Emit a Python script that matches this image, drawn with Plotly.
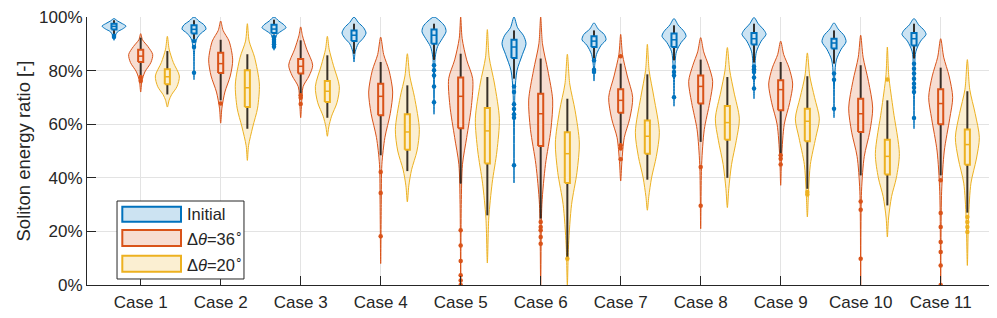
import plotly.graph_objects as go

# ---------------- data ----------------
cases = ["Case 1", "Case 2", "Case 3", "Case 4", "Case 5", "Case 6",
         "Case 7", "Case 8", "Case 9", "Case 10", "Case 11"]
y_ticks = [0, 20, 40, 60, 80, 100]
y_tick_labels = ["0%", "20%", "40%", "60%", "80%", "100%"]
series_names = ["Initial", "Δ<i>θ</i>=36<sup>∘</sup>", "Δ<i>θ</i>=20<sup>∘</sup>"]

# Initial
init_q1 = [95.3, 93.8, 94.0, 91.0, 90.0, 84.7, 88.8, 88.8, 89.7, 88.2, 89.4]
init_med = [96.5, 95.4, 95.5, 93.2, 93.2, 88.8, 91.0, 91.5, 91.9, 90.3, 91.9]
init_q3 = [97.5, 96.9, 97.1, 95.0, 95.3, 91.5, 92.8, 93.8, 94.0, 91.9, 94.0]
init_wlo = [93.5, 91.4, 93.5, 86.3, 84.0, 77.0, 84.5, 83.8, 83.0, 82.6, 84.5]
init_whi = [98.8, 98.8, 99.0, 97.5, 97.5, 95.0, 95.0, 96.9, 97.5, 95.0, 97.5]
init_out = [[93.0, 92.5], [91.0, 88.8, 79.2], [92.5, 91.5, 90.7, 89.8, 88.9], [],
            [82.0, 80.1, 78.2, 74.1, 68.2], [74.1, 72.0, 67.4, 65.7, 63.7, 62.4, 44.7],
            [83.8, 80.3, 79.5], [81.3, 79.5, 78.2, 70.1], [81.5, 80.5, 79.5, 77.4, 73.3],
            [78.9, 76.6, 65.8], [82.6, 80.7, 78.9, 77.0, 75.1, 73.6, 72.0, 62.3]]
init_shape = [
    [(99.4, 0), (98.5, .3), (97.5, .7), (96.6, 1), (95.5, .7), (94.5, .3), (93, .1), (91.3, 0)],
    [(100, 0), (98.5, .4), (97, .85), (95.5, 1), (94, .6), (92, .25), (88, .06), (76.6, 0)],
    [(100, 0), (98.5, .4), (97, .85), (96, 1), (95, .7), (93.5, .25), (91, .08), (87.6, 0)],
    [(100, 0), (98, .35), (96, .8), (94, 1), (92, .75), (90, .35), (87, .1), (83.2, 0)],
    [(100, 0), (98.5, .5), (96.5, .9), (94.5, 1), (92, .7), (89, .3), (85, .1), (63.7, 0)],
    [(100, 0), (96, .3), (93, .8), (90, 1), (86, .7), (80, .25), (72, .08), (38.1, 0)],
    [(97.8, 0), (95.5, .35), (93.5, .85), (91.5, 1), (89.5, .6), (86, .2), (82, .06), (76.1, 0)],
    [(99.4, 0), (97, .35), (94.5, .85), (92.8, 1), (90.5, .6), (87, .2), (80, .06), (66.7, 0)],
    [(99.8, 0), (97.5, .35), (95, .85), (93.5, 1), (91, .6), (87, .2), (80, .06), (69.5, 0)],
    [(97.8, 0), (95.5, .35), (93, .85), (90.7, 1), (88, .6), (84, .2), (78, .06), (62.4, 0)],
    [(99.4, 0), (97, .4), (95, .85), (93.5, 1), (91, .55), (87, .15), (75, .05), (58.3, 0)],
]

# Delta theta = 36 deg
d36_q1 = [83.2, 79.1, 78.9, 63.3, 58.5, 51.9, 64.3, 67.7, 65.2, 57.1, 60.0]
d36_med = [85.4, 82.6, 81.6, 70.4, 70.4, 63.9, 68.9, 74.1, 72.9, 63.9, 67.7]
d36_q3 = [87.8, 86.7, 84.3, 75.1, 77.4, 71.4, 73.0, 78.2, 76.4, 69.5, 73.0]
d36_wlo = [78.2, 68.9, 71.4, 48.4, 37.8, 24.8, 52.7, 53.4, 49.0, 40.9, 40.9]
d36_whi = [92.3, 91.5, 91.3, 83.2, 86.3, 84.5, 82.6, 84.1, 83.2, 82.0, 81.1]
d36_out = [[77.6, 76.1], [67.7], [70.8, 69.9, 67.5], [42.2, 34.3, 18.2],
           [20.4, 14.7, 9.0, 3.6, 1.7, 0.0], [23.5, 21.6, 20.4, 17.9, 15.4],
           [85.4, 52.1, 50.9, 46.9], [44.0, 29.6], [48.4, 47.1, 45.0],
           [31.2, 28.1, 9.8], [39.1, 26.9, 21.6, 16.0, 12.3, 7.3, 0.0]]
d36_shape = [
    [(93.8, 0), (91.5, .15), (89, .6), (86, 1), (83, .85), (79.5, .35), (76, .1), (72, 0)],
    [(98.5, 0), (95, .2), (91, .7), (84, 1), (78, .8), (72, .35), (66, .1), (60.4, 0)],
    [(96.3, 0), (93, .15), (88, .5), (82, 1), (78, .7), (74, .2), (68, .08), (62.4, 0)],
    [(92.5, 0), (86, .25), (80, .7), (72, 1), (64, .8), (55, .35), (45, .1), (30, .05), (8, 0)],
    [(100, 0), (92, .12), (84, .5), (77, 1), (67, .9), (55, .5), (45, .15), (30, .05), (0, 0)],
    [(100, 0), (90, .15), (80, .6), (69, 1), (58, .85), (45, .4), (30, .1), (0, 0)],
    [(93.5, 0), (86, .15), (78, .55), (70, 1), (62, .75), (55, .3), (46, .1), (38.8, 0)],
    [(92.3, 0), (87, .25), (82, .65), (76, 1), (68, .75), (58, .3), (45, .08), (21, 0)],
    [(91, 0), (86, .25), (81, .7), (75, 1), (68, .75), (60, .3), (48, .08), (37.2, 0)],
    [(93.2, 0), (85, .2), (76, .65), (66, 1), (57, .75), (48, .3), (35, .07), (0, 0)],
    [(91.9, 0), (85, .25), (78, .7), (70, 1), (62, .75), (50, .3), (35, .08), (0, 0)],
]

# Delta theta = 20 deg
d20_q1 = [74.9, 66.4, 68.3, 50.5, 45.3, 38.1, 49.0, 54.2, 53.6, 41.2, 44.9]
d20_med = [77.7, 73.6, 72.3, 57.1, 57.5, 49.0, 55.5, 60.6, 61.1, 48.0, 52.4]
d20_q3 = [80.5, 80.1, 76.1, 63.7, 66.0, 57.0, 61.4, 66.8, 65.8, 54.2, 58.0]
d20_wlo = [71.1, 58.3, 62.4, 42.5, 26.0, 10.4, 39.3, 40.0, 35.9, 29.7, 27.0]
d20_whi = [87.3, 86.1, 85.7, 74.5, 77.6, 69.5, 78.6, 77.6, 77.9, 68.9, 72.3]
d20_out = [[], [], [], [], [], [9.8], [], [], [34.7, 33.8], [76.7], [25.4, 23.5, 21.6, 19.8]]
d20_shape = [
    [(92.8, 0), (88, .15), (83, .5), (78, 1), (74, .8), (71, .35), (69, .15), (66.4, 0)],
    [(97.5, 0), (91, .15), (85, .6), (75, 1), (66, .85), (59, .45), (52, .1), (46.5, 0)],
    [(92.8, 0), (88, .15), (82, .5), (74, 1), (68, .8), (63, .35), (59, .12), (55.5, 0)],
    [(86.3, 0), (78, .2), (70, .6), (58, 1), (50, .8), (43, .35), (37, .12), (31, 0)],
    [(95.3, 0), (85, .15), (75, .6), (62, 1), (50, .8), (38, .4), (25, .12), (8.2, 0)],
    [(86.1, 0), (75, .2), (65, .65), (53, 1), (42, .8), (30, .35), (15, .1), (0, 0)],
    [(89.8, 0), (80, .15), (70, .55), (57, 1), (48, .75), (40, .35), (33, .12), (27.9, 0)],
    [(88.6, 0), (80, .2), (72, .55), (62, 1), (54, .75), (45, .35), (36, .12), (28.9, 0)],
    [(86.6, 0), (78, .2), (70, .6), (62, 1), (55, .7), (45, .25), (35, .1), (25.4, 0)],
    [(88.8, 0), (78, .12), (65, .5), (49, 1), (40, .75), (33, .35), (25, .1), (17.9, 0)],
    [(84.1, 0), (73, .2), (64, .65), (55, 1), (47, .75), (38, .3), (25, .1), (7.3, 0)],
]

# ---------------- styling ----------------
colors = [(0, 114, 189), (217, 83, 25), (237, 177, 32)]
offsets = [-1 / 3, 0.0, 1 / 3]
violin_hw = 0.15
box_hw = 0.032
FONT = "Liberation Sans"
TXT = "#262626"

groups = [
    (init_q1, init_med, init_q3, init_wlo, init_whi, init_out, init_shape),
    (d36_q1, d36_med, d36_q3, d36_wlo, d36_whi, d36_out, d36_shape),
    (d20_q1, d20_med, d20_q3, d20_wlo, d20_whi, d20_out, d20_shape),
]


def rgba(c, a):
    return f"rgba({c[0]},{c[1]},{c[2]},{a})"


def mix(c, a):
    return "rgb({},{},{})".format(*[round(v * a + 255 * (1 - a)) for v in c])


fig = go.Figure()
positions = list(range(1, len(cases) + 1))

# violins
for gi, g in enumerate(groups):
    shape = g[6]
    xs, ys = [], []
    for ci, prof in enumerate(shape):
        pos = positions[ci] + offsets[gi]
        pts = sorted(prof, key=lambda p: -p[0])
        right = [(pos + w * violin_hw, v) for v, w in pts]
        left = [(pos - w * violin_hw, v) for v, w in reversed(pts)][1:]
        for x, y in right + left:
            xs.append(x)
            ys.append(y)
        xs.append(None)
        ys.append(None)
    fig.add_trace(go.Scatter(x=xs, y=ys, mode="lines", fill="toself",
                             fillcolor=rgba(colors[gi], 0.2),
                             line=dict(color=rgba(colors[gi], 1), width=1, shape="spline", smoothing=0.8),
                             hoverinfo="skip", showlegend=False))

# whiskers
for gi, g in enumerate(groups):
    xs, ys = [], []
    for ci in range(len(cases)):
        pos = positions[ci] + offsets[gi]
        xs += [pos, pos, None]
        ys += [g[3][ci], g[4][ci], None]
    fig.add_trace(go.Scatter(x=xs, y=ys, mode="lines",
                             line=dict(color="rgba(35,28,22,0.9)", width=2),
                             hoverinfo="skip", showlegend=False))

# outliers
for gi, g in enumerate(groups):
    xs, ys = [], []
    for ci in range(len(cases)):
        pos = positions[ci] + offsets[gi]
        for v in g[5][ci]:
            xs.append(pos)
            ys.append(v)
    fig.add_trace(go.Scatter(x=xs, y=ys, mode="markers",
                             marker=dict(color=rgba(colors[gi], 1), size=4.5),
                             hoverinfo="skip", showlegend=False))

# boxes (interquartile range) and medians
for gi, g in enumerate(groups):
    bx, by, mx, my = [], [], [], []
    for ci in range(len(cases)):
        pos = positions[ci] + offsets[gi]
        q1, med, q3 = g[0][ci], g[1][ci], g[2][ci]
        bx += [pos - box_hw, pos + box_hw, pos + box_hw, pos - box_hw, pos - box_hw, None]
        by += [q1, q1, q3, q3, q1, None]
        mx += [pos - box_hw, pos + box_hw, None]
        my += [med, med, None]
    fig.add_trace(go.Scatter(x=bx, y=by, mode="lines", fill="toself",
                             fillcolor=mix(colors[gi], 0.2),
                             line=dict(color=rgba(colors[gi], 1), width=2),
                             hoverinfo="skip", showlegend=False))
    fig.add_trace(go.Scatter(x=mx, y=my, mode="lines",
                             line=dict(color=rgba(colors[gi], 1), width=1.5),
                             hoverinfo="skip", showlegend=False))

# legend (drawn as shapes + text)
legend_box = dict(x0=0.0330, x1=0.1725, y0=0.0224, y1=0.3134)
fig.add_shape(type="rect", xref="paper", yref="paper", layer="above",
              fillcolor="white", line=dict(color=TXT, width=1), **legend_box)
rows_y = [(0.2362, 0.2922), (0.1455, 0.2052), (0.0496, 0.1093)]
for gi in range(3):
    y0, y1 = rows_y[gi]
    fig.add_shape(type="rect", xref="paper", yref="paper", layer="above",
                  x0=0.0388, x1=0.1033, y0=y0, y1=y1,
                  fillcolor=mix(colors[gi], 0.2),
                  line=dict(color=rgba(colors[gi], 1), width=2))
    fig.add_annotation(xref="paper", yref="paper", x=0.1078, y=(y0 + y1) / 2,
                       text=series_names[gi], showarrow=False, xanchor="left", yanchor="middle",
                       font=dict(size=16.5, color=TXT, family=FONT))

axis_common = dict(showline=True, linecolor=TXT, linewidth=1, ticks="inside",
                   ticklen=9, tickcolor=TXT, showgrid=True, gridcolor="#e3e3e3",
                   gridwidth=1, zeroline=False, mirror=False, automargin=False,
                   ticklabeloverflow="allow",
                   tickfont=dict(size=17, color=TXT, family=FONT))

# the page body adds an 8px offset, so the figure is sized to fill the rest of the window
fig.update_layout(
    width=989, height=310,
    margin=dict(l=79, r=0, t=9, b=33),
    plot_bgcolor="white", paper_bgcolor="white",
    showlegend=False,
    xaxis=dict(range=[0.329, 11.704], tickvals=positions, ticktext=cases,
               ticklabelstandoff=2, **axis_common),
    yaxis=dict(range=[0, 100], tickvals=y_ticks, ticktext=y_tick_labels,
               title=dict(text="Soliton energy ratio [-]", standoff=3,
                          font=dict(size=18.5, color=TXT, family=FONT)),
               **axis_common),
)

fig.write_html("out.html")
